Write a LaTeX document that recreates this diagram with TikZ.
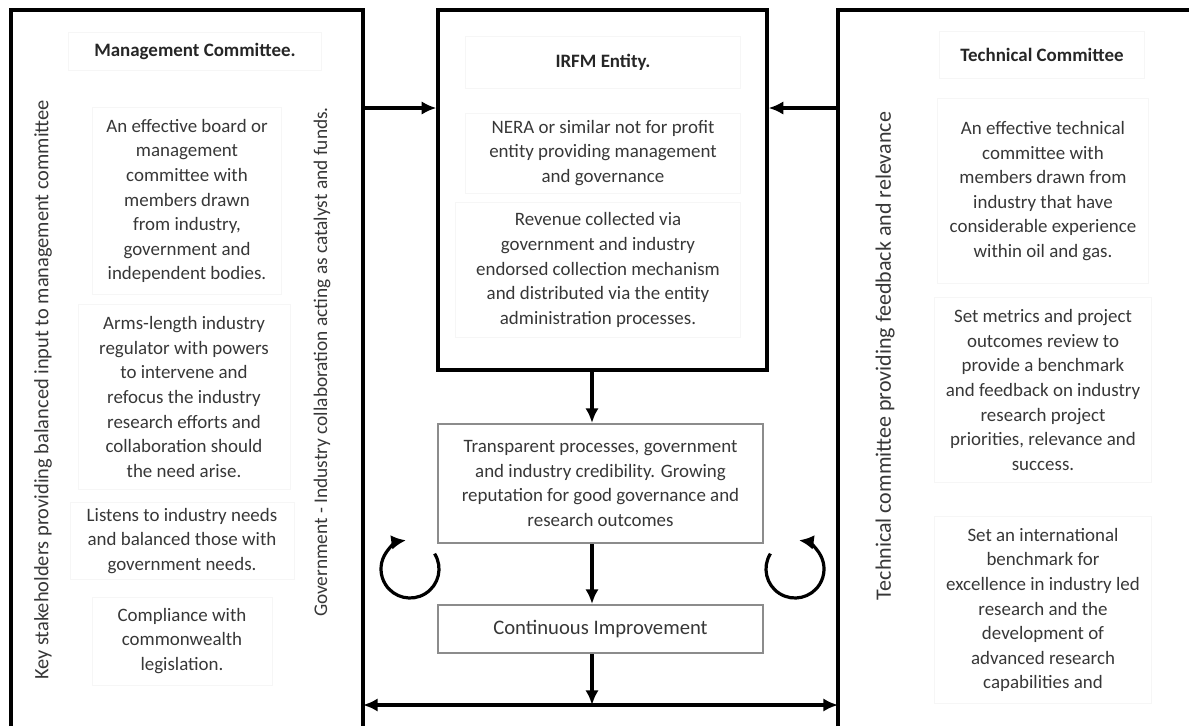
\documentclass[tikz,border=0pt]{standalone}
\usepackage{fontspec}
\setmainfont{Carlito}
\usetikzlibrary{arrows.meta}
\definecolor{txtgray}{RGB}{55,55,55}
\definecolor{faint}{RGB}{246,246,246}

\begin{document}
\begin{tikzpicture}[x=0.75pt,y=0.75pt,yscale=-1,
  heavy/.style={line width=2.4pt},
  arr/.style={line width=2.4pt,-{Latex[length=11pt,width=10pt]}},
  loop/.style={line width=2.4pt,-{Latex[length=11pt,width=11pt]}},
  blk/.style={draw=faint,align=center,text=txtgray,font=\fontsize{14.2}{18.4}\selectfont,inner sep=3pt},
  ttl/.style={blk,text=black!85,font=\bfseries\fontsize{14.2}{18.4}\selectfont},
  side/.style={rotate=90,text=txtgray,font=\fontsize{15.3}{18}\selectfont},
  gbox/.style={draw=black!45,line width=1.5pt,align=center,text=txtgray,font=\fontsize{14.2}{18.4}\selectfont}]

\useasboundingbox (0,0) rectangle (1189,726);

%Straight Lines: committee frames
\draw[heavy] (11,726) -- (11,10) -- (363,10) -- (363,726);
\draw[heavy] (838,726) -- (838,10) -- (1189,10);

%Shape: Rectangle (entity)
\node[draw,heavy,minimum width=246.75pt,minimum height=270pt] (entity) at (602.5,190) {};

%Management committee
\node[ttl,minimum width=190pt,minimum height=28.5pt] (mgmt) at (195,51) {Management Committee.};
\node[blk,minimum width=142pt,minimum height=140pt] (board) at (187,201) {An effective board or\\ management\\ committee with\\ members drawn\\ from industry,\\ government and\\ independent bodies.};
\node[blk,minimum width=159pt,minimum height=139pt] (arms) at (184,397) {Arms-length industry\\ regulator with powers\\ to intervene and\\ refocus the industry\\ research efforts and\\ collaboration should\\ the need arise.};
\node[blk,minimum width=168pt,minimum height=58pt] (listen) at (182,541) {Listens to industry needs\\ and balanced those with\\ government needs.};
\node[blk,minimum width=135pt,minimum height=66pt] (comply) at (182,641) {Compliance with\\ commonwealth\\ legislation.};
\node[side] (keys) at (43,390) {Key stakeholders providing balanced input to management committee};
\node[side,font=\fontsize{14.5}{18}\selectfont] (govt) at (322,362) {Government - Industry collaboration acting as catalyst and funds.};

%IRFM entity
\node[ttl,minimum width=206pt,minimum height=39pt] (irfm) at (603,62) {IRFM Entity.};
\node[blk,minimum width=206pt,minimum height=60pt] (nera) at (603,153) {NERA or similar not for profit\\ entity providing management\\ and governance};
\node[blk,minimum width=214pt,minimum height=101pt] (rev) at (598,270) {Revenue collected via\\ government and industry\\ endorsed collection mechanism\\ and distributed via the entity\\ administration processes.};

%Technical committee
\node[ttl,minimum width=154pt,minimum height=35pt] (tech) at (1042,55) {Technical Committee};
\node[blk,minimum width=158pt,minimum height=139pt] (eff) at (1043,191) {An effective technical\\ committee with\\ members drawn from\\ industry that have\\ considerable experience\\ within oil and gas.};
\node[blk,minimum width=163pt,minimum height=139pt] (metrics) at (1043,390) {Set metrics and project\\ outcomes review to\\ provide a benchmark\\ and feedback on industry\\ research project\\ priorities, relevance and\\ success.};
\node[blk,minimum width=163pt,minimum height=140pt] (intl) at (1043,610) {Set an international\\ benchmark for\\ excellence in industry led\\ research and the\\ development of\\ advanced research\\ capabilities and};
\node[side,font=\fontsize{16.5}{18}\selectfont] (feed) at (885,356) {Technical committee providing feedback and relevance};

%Outcome boxes
\node[gbox,minimum width=243.75pt,minimum height=89.25pt] (transp) at (600.5,483.5) {Transparent processes, government\\ and industry credibility. Growing\\ reputation for good governance and\\ research outcomes};
\node[gbox,font=\fontsize{15.5}{18}\selectfont,minimum width=243.75pt,minimum height=36pt] (ci) at (600.5,629) {Continuous Improvement};

%Arrows
\coordinate (axis) at (592,0);
\coordinate (ml) at (363,108);
\coordinate (mr) at (838,108);
\coordinate (lb) at (363,705);
\coordinate (rb) at (838,705);
\draw[arr] (ml) -- (ml -| entity.west);
\draw[arr] (mr) -- (mr -| entity.east);
\draw[arr] (entity.south -| axis) -- (transp.north -| axis);
\draw[arr] (transp.south -| axis) -- (ci.north -| axis);
\draw[arr] (ci.south -| axis) -- (lb -| axis);
\draw[line width=2.4pt,{Latex[length=11pt,width=10pt]}-{Latex[length=11pt,width=10pt]}] (lb) -- (rb);

%Curve Lines: improvement loops
\draw[loop] (410,569) ++(-32:29) arc[start angle=-32,end angle=262,radius=29];
\draw[loop] (795,569) ++(212:29) arc[start angle=212,end angle=-82,radius=29];

\end{tikzpicture}
\end{document}
